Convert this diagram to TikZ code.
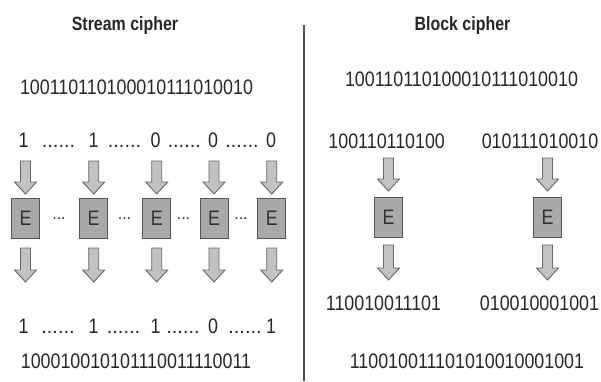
\documentclass[tikz,border=0pt]{standalone}
\usepackage{fontspec}
\setmainfont{Liberation Sans}
\newfontfamily\digfont[FakeStretch=0.85]{Liberation Sans}
\newfontfamily\titfont[FakeStretch=0.83]{Liberation Sans}
\usetikzlibrary{calc}
\definecolor{txt}{HTML}{262626}
\definecolor{etxt}{HTML}{333333}
\definecolor{boxfill}{HTML}{A9A9A9}
\definecolor{boxline}{HTML}{555555}
\definecolor{arrfill}{HTML}{C2C2C2}
\definecolor{arrline}{HTML}{666666}
\definecolor{divline}{HTML}{505050}
\newcommand\fatarrow[2]{%
  \draw[fatarr] ($(#1)+(-5,0)$) -- ($(#2)+(-5,-12)$) -- ($(#2)+(-11,-12)$) -- (#2)
    -- ($(#2)+(11,-12)$) -- ($(#2)+(5,-12)$) -- ($(#1)+(5,0)$) -- cycle;}
\begin{document}
\begin{tikzpicture}[x=1pt,y=-1pt,
  title/.style={font=\titfont\bfseries\fontsize{19.2}{21}\selectfont, text=txt, anchor=base, inner sep=0},
  bits/.style={font=\digfont\fontsize{21}{23}\selectfont, text=txt, anchor=base, inner sep=0},
  dotrow/.style={font=\fontsize{20}{22}\selectfont, text=txt, anchor=base, inner sep=0},
  smalldots/.style={font=\fontsize{16}{17}\selectfont, text=txt, anchor=base, inner sep=0},
  ebox/.style={draw=boxline, fill=boxfill, line width=1pt, minimum width=28pt, minimum height=40pt,
    inner sep=0, font=\digfont\fontsize{21}{22}\selectfont, text=etxt},
  fatarr/.style={draw=arrline, fill=arrfill, line width=0.9pt, line join=miter},
  divider/.style={draw=divline, line width=2.2pt}]
\useasboundingbox (0,0) rectangle (601,381);

% divider
\coordinate (dtop) at (304,25);
\coordinate (dbot) at (304,381);
\draw[divider] (dtop) -- (dbot);

% titles
\node[title] (sttl) at (125,30) {Stream cipher};
\node[title] (bttl) at (462.5,30) {Block cipher};

% ---------- stream cipher ----------
\node[bits] (splain) at (136.5,94.5) {100110110100010111010010};
\foreach \i/\bx/\dx/\ti/\ot in {1/25.5/23.5/1/1,2/93.7/93.5/1/1,3/156.7/155.5/0/1,4/214/213/0/0,5/271.7/271/0/1}{
  \node[bits] (sin\i) at (\dx,147) {\ti};
  \node[ebox] (sbox\i) at (\bx,218) {E};
  \node[bits] (sout\i) at (\dx,333) {\ot};
  \coordinate (sat\i) at (\bx,161);
  \coordinate (sab\i) at (\bx,194);
  \coordinate (sbt\i) at (\bx,248);
  \coordinate (sbb\i) at (\bx,282);
  \fatarrow{sat\i}{sab\i}
  \fatarrow{sbt\i}{sbb\i}
}
\foreach \x [count=\k] in {58.5,124.5,184.25,242}{
  \node[dotrow] (sdin\k) at (\x,147) {......};
}
\foreach \x [count=\k] in {58,123.5,183,245}{
  \node[dotrow] (sdout\k) at (\x,333) {......};
}
\foreach \x [count=\k] in {59,124.5,183.5,241}{
  \node[smalldots] (sdbox\k) at (\x,219) {...};
}
\node[bits] (scipher) at (136,368) {100010010101110011110011};

% ---------- block cipher ----------
\node[bits] (bplain) at (461.5,86.5) {100110110100010111010010};
\node[bits] (bin1) at (386.7,148) {100110110100};
\node[bits] (bin2) at (540,148) {010111010010};
\node[ebox] (bbox1) at (388.5,217) {E};
\node[ebox] (bbox2) at (547.5,217) {E};
\foreach \i/\bx in {1/388.5,2/547.5}{
  \coordinate (bat\i) at (\bx,158);
  \coordinate (bab\i) at (\bx,191);
  \coordinate (bbt\i) at (\bx,245);
  \coordinate (bbb\i) at (\bx,280);
  \fatarrow{bat\i}{bab\i}
  \fatarrow{bbt\i}{bbb\i}
}
\node[bits] (bout1) at (383.5,310) {110010011101};
\node[bits] (bout2) at (539.5,310) {010010001001};
\node[bits] (bcipher) at (467,368) {110010011101010010001001};
\end{tikzpicture}
\end{document}
